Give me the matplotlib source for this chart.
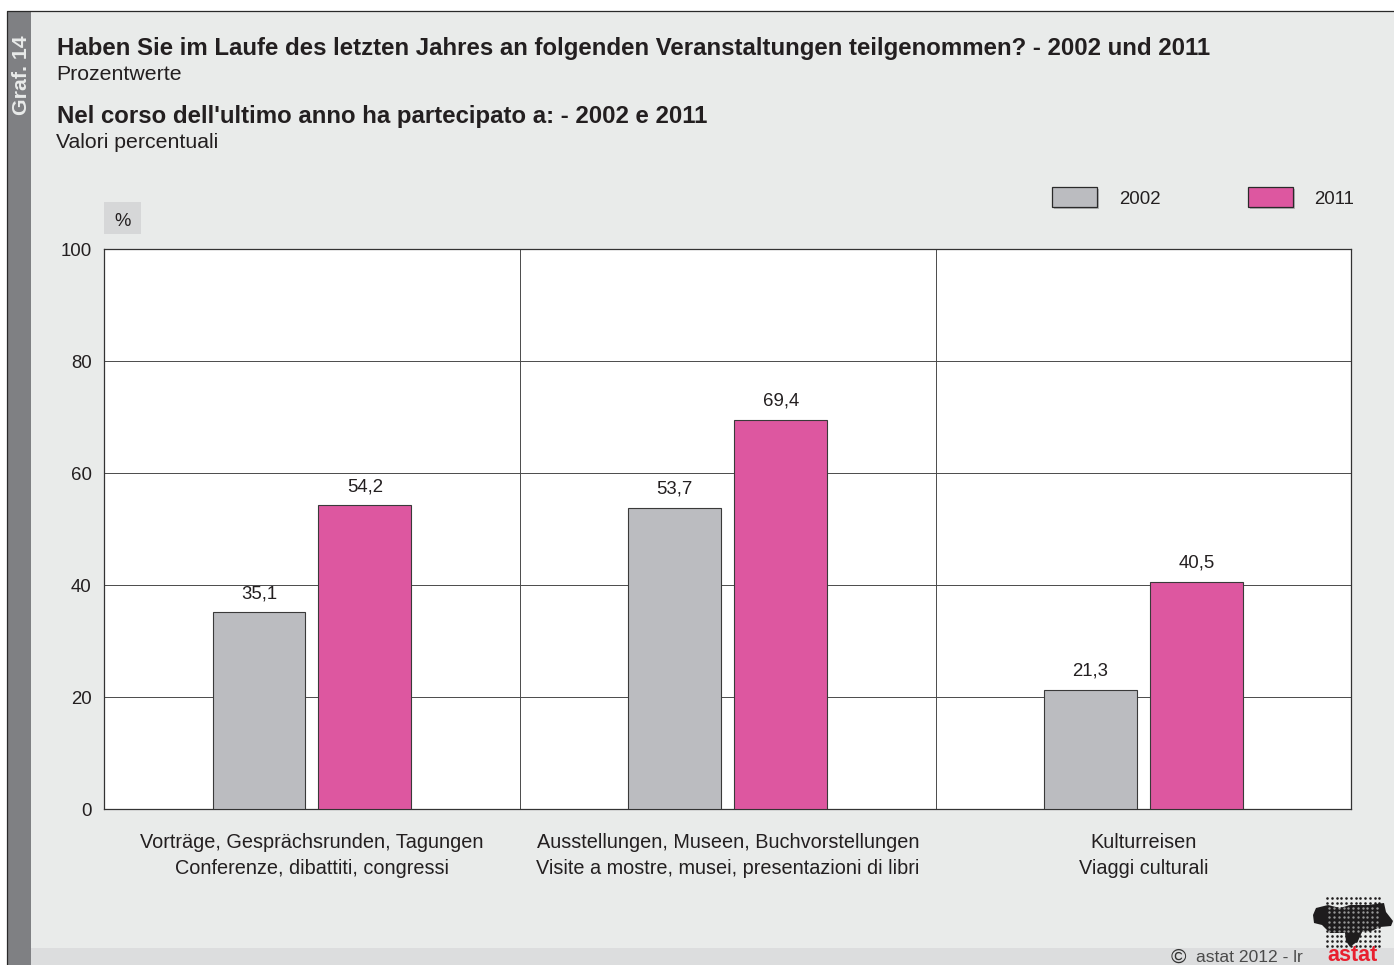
#!/usr/bin/env python3
import numpy as np
import matplotlib
matplotlib.use("Agg")
import matplotlib.pyplot as plt
from matplotlib.patches import Rectangle, Polygon

plt.rcParams['font.family'] = ['Liberation Sans', 'DejaVu Sans']

categories = [
    "Vorträge, Gesprächsrunden, Tagungen\nConferenze, dibattiti, congressi",
    "Ausstellungen, Museen, Buchvorstellungen\nVisite a mostre, musei, presentazioni di libri",
    "Kulturreisen\nViaggi culturali",
]
values_2002 = [35.1, 53.7, 21.3]
values_2011 = [54.2, 69.4, 40.5]
y_ticks = [0, 20, 40, 60, 80, 100]

GREY = '#BBBCC0'
PINK = '#DD57A0'
BG = '#E9EBEA'
TEXT = '#231F20'
W, H = 1394, 965

fig = plt.figure(figsize=(W / 100, H / 100), dpi=100, facecolor='white')

# overlay in reference pixels, for the frame, titles and logo
bg = fig.add_axes([0, 0, 1, 1], zorder=0)
bg.set_xlim(0, W)
bg.set_ylim(H, 0)
bg.axis('off')
bg.add_patch(Rectangle((7, 11), W - 7, H - 11, fc=BG, ec='none'))
bg.add_patch(Rectangle((31, 948), W - 31, H - 948, fc='#DCDDDE', ec='none'))
bg.add_patch(Rectangle((7, 11), 24, H - 11, fc='#7F8083', ec='none'))
bg.plot([7, 7, W], [H, 11, 11], color='#2A2A2A', lw=0.9)

bg.text(21.5, 75.5, "Graf. 14", rotation=90, color='#E9EBEA', fontsize=15.3,
        fontweight='bold', ha='center', va='center')
bg.text(57, 49, "Haben Sie im Laufe des letzten Jahres an folgenden Veranstaltungen teilgenommen? - 2002 und 2011",
        fontsize=17.28, fontweight='bold', color=TEXT, va='center')
bg.text(56.5, 74, "Prozentwerte", fontsize=15.3, color=TEXT, va='center')
bg.text(57, 117, "Nel corso dell'ultimo anno ha partecipato a: - 2002 e 2011",
        fontsize=17.25, fontweight='bold', color=TEXT, va='center')
bg.text(56.5, 142, "Valori percentuali", fontsize=15.3, color=TEXT, va='center')

# unit box
bg.add_patch(Rectangle((104, 202), 37, 32, fc='#D6D7D8', ec='none'))
bg.text(122.5, 221, "%", fontsize=13.3, color=TEXT, ha='center', va='center')

# legend with small shadow
for x0, col, lab, tx in [(1052, GREY, "2002", 1119), (1247.5, PINK, "2011", 1314)]:
    bg.add_patch(Rectangle((x0 + 2, 189), 45, 20, fc='#B5B6B8', ec='none'))
    bg.add_patch(Rectangle((x0, 187), 45, 20, fc=col, ec='#2A2A2A', lw=0.9))
    bg.text(tx, 199, lab, fontsize=13.4, color=TEXT, va='center')

# footer
bg.text(1178, 957, "©", fontsize=15, color='#333333', ha='center', va='center')
bg.text(1196, 958, "astat 2012 - lr", fontsize=12.6, color='#4A4A4A', va='center')

# logo: dot raster over a rough province shape
bg.add_patch(Polygon([(1313, 915), (1316, 908), (1328, 905), (1340, 908), (1350, 905),
                      (1368, 905), (1384, 903), (1386, 912), (1393, 921), (1391, 926),
                      (1380, 927), (1372, 931), (1362, 932), (1358, 941), (1350, 947),
                      (1346, 941), (1345, 933), (1330, 933), (1322, 925), (1314, 923)],
                     fc='#1E1C1D', ec='none'))
gx, gy = np.meshgrid(np.arange(1327, 1380, 4.75), np.arange(898, 950, 4.75))
bg.scatter(gx.ravel(), gy.ravel(), s=3.5, color='#1E1C1D', lw=0)
hx, hy = np.meshgrid(np.arange(1329.4, 1378, 4.75), np.arange(907.5, 932, 4.75))
bg.scatter(hx.ravel(), hy.ravel(), s=3.0, color=BG, lw=0, alpha=0.6)
bg.text(1352, 955.5, "astat", fontsize=15.5, fontweight='bold', color='#E8202F',
        ha='center', va='center')

# main chart
ax = fig.add_axes([104.1 / W, 1 - 809 / H, 1247.3 / W, 560 / H], zorder=2)
ax.set_facecolor('white')
x = np.arange(len(categories)) + 0.5
bw = 93 / 416
off = 53 / 416
b1 = ax.bar(x - off, values_2002, bw, color=GREY, edgecolor='#3A3A3A', linewidth=0.8, zorder=3)
b2 = ax.bar(x + off, values_2011, bw, color=PINK, edgecolor='#3A3A3A', linewidth=0.8, zorder=3)
for bars, vals in ((b1, values_2002), (b2, values_2011)):
    labels = [f"{v:.1f}".replace('.', ',') for v in vals]
    ax.bar_label(bars, labels=labels, padding=7.5, fontsize=13.4, color=TEXT)

ax.set_xlim(0, 3)
ax.set_ylim(0, 100)
ax.set_yticks(y_ticks)
ax.set_xticks(x)
ax.set_xticklabels(categories, fontsize=14.3, color=TEXT, linespacing=1.5)
ax.tick_params(axis='both', length=0)
ax.tick_params(axis='x', pad=17)
ax.tick_params(axis='y', labelsize=13.4, labelcolor=TEXT, pad=9)
ax.set_axisbelow(True)
ax.grid(axis='y', color='#4A4A4A', lw=0.7)
for sep in (1, 2):
    ax.axvline(sep, color='#4A4A4A', lw=0.7, zorder=1)
for s in ax.spines.values():
    s.set_color('#333333')
    s.set_linewidth(0.9)

plt.savefig("out.png", dpi=100)
plt.close('all')
